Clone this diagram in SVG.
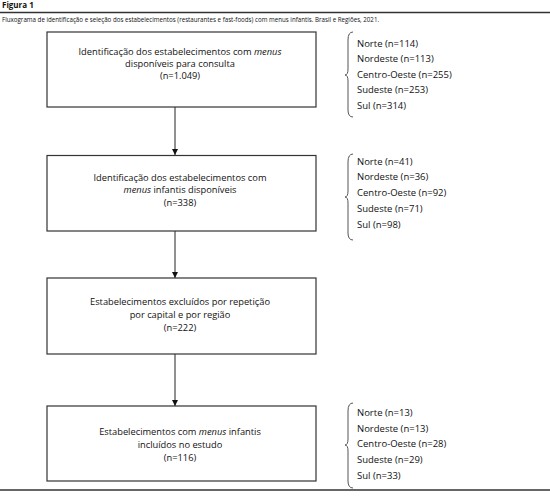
<svg xmlns="http://www.w3.org/2000/svg" width="550" height="499" viewBox="0 0 550 499">
<defs>
<style>
.box{fill:#fff;stroke:#333;stroke-width:1.2}
.t{font-family:"Open Sans","Noto Sans",sans-serif;font-size:9.3px;fill:#111;text-anchor:middle}
.r{font-family:"Open Sans","Noto Sans",sans-serif;font-size:9.5px;fill:#111}
.br{fill:none;stroke:#555;stroke-width:1}
.ln{stroke:#222;stroke-width:1}
.rule{stroke:#333;stroke-width:1.5}
</style>
<marker id="ah" viewBox="0 0 10 10" refX="10" refY="5" markerWidth="6" markerHeight="6" markerUnits="userSpaceOnUse" orient="auto">
<path d="M0,0 L10,5 L0,10 z" fill="#111"/>
</marker>
</defs>
<rect width="550" height="499" fill="#fff"/>
<g id="header">
<text x="2" y="8" style="font-family:'Open Sans','Noto Sans',sans-serif;font-size:8px;font-weight:bold;fill:#111">Figura 1</text>
<line class="rule" x1="0" y1="12.5" x2="550" y2="12.5"/>
<text x="2" y="22" style="font-family:'Open Sans','Noto Sans',sans-serif;font-size:6.2px;fill:#111">Fluxograma de identificação e seleção dos estabelecimentos (restaurantes e fast-foods) com menus infantis. Brasil e Regiões, 2021.</text>
<line class="rule" x1="0" y1="490" x2="550" y2="490"/>
</g>
<g id="connectors">
<line class="ln" x1="175" y1="107" x2="175" y2="155" marker-end="url(#ah)"/>
<line class="ln" x1="175" y1="231" x2="175" y2="278" marker-end="url(#ah)"/>
<line class="ln" x1="175" y1="354" x2="175" y2="406" marker-end="url(#ah)"/>
</g>
<g id="node1">
<rect class="box" x="47" y="32" width="269" height="75"/>
<text class="t" x="180" y="55">Identificação dos estabelecimentos com <tspan font-style="italic">menus</tspan></text>
<text class="t" x="180" y="67">disponíveis para consulta</text>
<text class="t" x="180" y="79">(n=1.049)</text>
</g>
<g id="node2">
<rect class="box" x="47" y="155.5" width="269" height="75.5"/>
<text class="t" x="180" y="181">Identificação dos estabelecimentos com</text>
<text class="t" x="180" y="193"><tspan font-style="italic">menus</tspan> infantis disponíveis</text>
<text class="t" x="180" y="206">(n=338)</text>
</g>
<g id="node3">
<rect class="box" x="47" y="278" width="269" height="76"/>
<text class="t" x="180" y="305">Estabelecimentos excluídos por repetição</text>
<text class="t" x="180" y="318">por capital e por região</text>
<text class="t" x="180" y="331">(n=222)</text>
</g>
<g id="node4">
<rect class="box" x="47" y="406" width="269" height="75"/>
<text class="t" x="180" y="435">Estabelecimentos com <tspan font-style="italic">menus</tspan> infantis</text>
<text class="t" x="180" y="448">incluídos no estudo</text>
<text class="t" x="180" y="461">(n=116)</text>
</g>
<g id="regions1">
<path class="br" d="M353,32 Q348,32 348,40 L348,69 Q348,75 345,75 Q348,75 348,81 L348,110 Q348,117 353,117"/>
<text class="r" x="357" y="47">Norte (n=114)</text>
<text class="r" x="357" y="62">Nordeste (n=113)</text>
<text class="r" x="357" y="78">Centro-Oeste (n=255)</text>
<text class="r" x="357" y="93">Sudeste (n=253)</text>
<text class="r" x="357" y="109">Sul (n=314)</text>
</g>
<g id="regions2">
<path class="br" d="M353,154 Q348,154 348,162 L348,191 Q348,197 345,197 Q348,197 348,203 L348,233 Q348,240 353,240"/>
<text class="r" x="357" y="165">Norte (n=41)</text>
<text class="r" x="357" y="180">Nordeste (n=36)</text>
<text class="r" x="357" y="196">Centro-Oeste (n=92)</text>
<text class="r" x="357" y="212">Sudeste (n=71)</text>
<text class="r" x="357" y="228">Sul (n=98)</text>
</g>
<g id="regions3">
<path class="br" d="M353,403 Q348,403 348,411 L348,439 Q348,445 345,445 Q348,445 348,451 L348,481 Q348,488 353,488"/>
<text class="r" x="357" y="416">Norte (n=13)</text>
<text class="r" x="357" y="432">Nordeste (n=13)</text>
<text class="r" x="357" y="447">Centro-Oeste (n=28)</text>
<text class="r" x="357" y="463">Sudeste (n=29)</text>
<text class="r" x="357" y="479">Sul (n=33)</text>
</g>
</svg>
